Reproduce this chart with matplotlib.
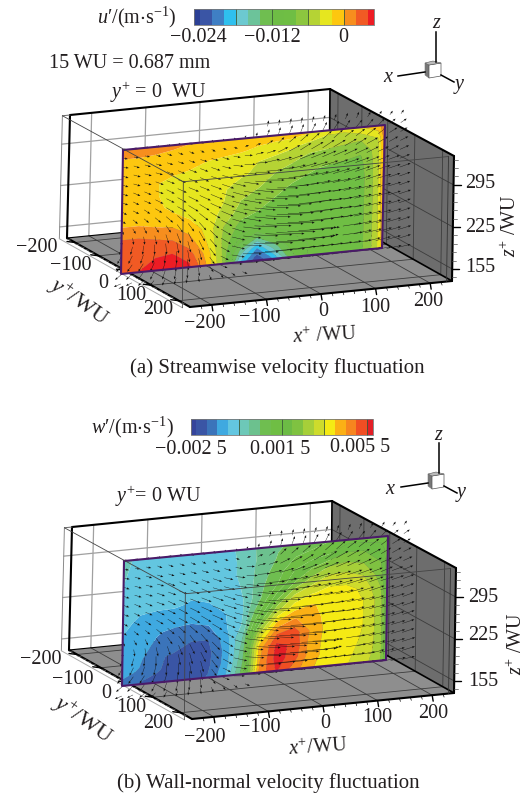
import numpy as np
import matplotlib
matplotlib.use('Agg')
import matplotlib.pyplot as plt
from matplotlib.colors import ListedColormap

plt.rcParams['font.family'] = ['Liberation Serif', 'DejaVu Serif']
plt.rcParams['mathtext.fontset'] = 'custom'
plt.rcParams['mathtext.rm'] = 'Liberation Serif'
plt.rcParams['mathtext.it'] = 'Liberation Serif:italic'
plt.rcParams['mathtext.fallback'] = 'stix'

nan = np.nan
x_ticks = [-200, -100, 0, 100, 200]
y_ticks = [-200, -100, 0, 100, 200]
z_ticks = [155, 225, 295]
x_labels = ['\u2212200', '\u2212100', '0', '100', '200']
y_labels = ['\u2212200', '\u2212100', '0', '100', '200']
z_labels = ['155', '225', '295']

# colour bars, values in m/s
u_bar_edges = [-0.025, -0.024, -0.022, -0.020, -0.018, -0.016, -0.014, -0.012, -0.010,
               -0.008, -0.006, -0.004, -0.002, 0.0, 0.002, 0.004, 0.005]
u_bar_marks = [-0.018, -0.012, -0.006, 0.0]
u_bar_labels = ['\u22120.024', '\u22120.012', '0']
u_colors = ['#2b3f95', '#3a55a5', '#3f7fc4', '#2fc0ee', '#6cc9d0', '#6cc39a', '#6fbe50', '#6ebd45',
            '#6fbe44', '#8cc63f', '#b5d334', '#e6e61f', '#fdc70f', '#f78e1e', '#f15a24', '#ed1c24']
w_bar_edges = [-0.00275, -0.0025, -0.0020, -0.0015, -0.0010, -0.0005, 0.0, 0.0005, 0.0010, 0.0015,
               0.0020, 0.0025, 0.0030, 0.0035, 0.0040, 0.0045, 0.0050, 0.0055, 0.00575]
w_bar_marks = [-0.0005, 0.0015, 0.0035, 0.0055]
w_bar_labels = ['\u22120.002 5', '0.001 5', '0.005 5']
w_colors = ['#35449b', '#3a55a5', '#3b74ba', '#3fa9e0', '#63c6e0', '#6dc8b8', '#6cc18e', '#6fbe50', '#6fbe44',
            '#6cbb45', '#7fc241', '#a6cf39', '#cedb2c', '#f5ea14', '#fbb015', '#f6851f', '#f04e23', '#e31e26']

# colour level on the y+=0 plane, columns left to right, rows top to bottom
u_levels = [
    [13.2, 13.2, 13, 12.8, 12.5, 12.2, 12.1, 12, 12, 12, 12, 11.6, 10.8, 10.8, 11.5, 12.2, 13],
    [12.3, 12.3, 12.2, 12, 12, 12, 11.8, 11.6, 11.3, 11, 10.7, 10.2, 10, 9.8, 9.6, 10.5, 13],
    [12, 12, 12, 12, 11.6, 11.1, 10.9, 10.7, 10.5, 10.2, 9.8, 9.2, 9, 8.8, 8.6, 10, 13],
    [12, 12, 11.6, 11, 10.9, 10.8, 10.7, 10.6, 10.3, 9.5, 9, 8.6, 8.4, 8.3, 8.2, 10, 13],
    [12, 12, 11.6, 11, 10.8, 10.8, 10.6, 10, 9.6, 9, 8.5, 8.3, 8.2, 8.1, 8, 10, 13],
    [12, 12, 11.8, 11.2, 11, 10.8, 10.5, 9.5, 9, 8.5, 8.2, 8.1, 8, 8, 8, 10, 12.8],
    [12.2, 12.2, 12, 11.9, 11.4, 11, 10.2, 9, 8.5, 8, 8, 7.9, 7.9, 8, 8, 10, 12.6],
    [13.3, 13.3, 13, 12.8, 12.2, 11.2, 9.5, 8.2, 7.8, 7.7, 7.7, 7.7, 7.7, 7.8, 8, 10, 12.4],
    [14, 14, 14, 13.8, 13, 11.5, 9.3, 7.4, 6, 7, 7.5, 7.6, 7.6, 7.7, 8, 10, 12.2],
    [14.2, 14.3, 14.5, 14.7, 14, 12.2, 9.3, 5.5, 2.5, 5, 7, 7.5, 7.6, 7.7, 8, 10, 12.2],
    [14.3, 14.5, 14.8, 15, 14.8, 12.6, 9.4, 3.5, 0.5, 2.5, 6, 7.5, 7.6, 7.7, 8, 10, 12.2],
]
w_levels = [
    [4.7, 4.3, 4, 4, 4, 4, 4.2, 4.8, 5.8, 6.4, 6.7, 7, 7.5, 8, 8, 8, 7.5],
    [4.6, 4.2, 4, 4, 4, 4, 4.2, 4.7, 5.8, 6.6, 7.5, 8, 8.5, 9.5, 9.5, 9, 8],
    [4.5, 4, 4, 4, 4, 4, 4.2, 4.7, 6, 7, 8.5, 9.5, 10.5, 10.8, 10.5, 9.5, 8],
    [4, 4, 4, 4, 3.7, 3.8, 4, 4.6, 6.2, 7.5, 9.5, 11, 12, 12, 11.5, 10, 8],
    [4, 3.7, 3.6, 3.6, 3.4, 3.5, 3.8, 4.5, 6.4, 9, 11.5, 12.4, 12.8, 12.8, 12.3, 10.5, 8],
    [3.8, 3.3, 3.2, 3.1, 3.0, 3.0, 3.5, 4.5, 7.5, 11, 13, 13.6, 13.2, 12.9, 12.5, 11, 8.5],
    [3.5, 3.1, 2.6, 2.3, 2.1, 2.4, 3.4, 4.6, 9.5, 13.4, 14.6, 14, 13.1, 12.9, 12.5, 11, 8.5],
    [3.3, 2.9, 2.3, 1.8, 1.5, 1.5, 3.0, 5.5, 12, 15.4, 16, 14.3, 13.1, 12.9, 12.5, 11, 8.5],
    [3.1, 2.7, 1.6, 1.4, 1.2, 1.2, 2.8, 6, 14, 16.8, 16.3, 14, 13.1, 12.9, 12.4, 11, 8.5],
    [2.8, 2.4, 1.6, 1.2, 1.1, 1.3, 2.9, 6.5, 14.4, 17, 16, 13.9, 13.1, 12.8, 12.2, 11, 8.5],
    [2.2, 1.4, 1.2, 1.1, 1.1, 1.6, 3.4, 7, 14.8, 16.6, 15, 13.6, 13, 12.6, 12, 10.6, 8.5],
]

# vector components as they read on the page, same field in both panels
vec_u = [
    [nan, nan, nan, nan, nan, nan, nan, nan, nan, nan, nan, nan, nan, 1, 1, 1.5, 1.5, 2, 2, 2, 2.5, 2.5, 3, 3, 3, 3],
    [4, 4, 4, 4, 4, 3, 3, 3, 2, 2, 2, 1, 1, 2, 2, 3, 3, 4, 4, 5, 5, 6, 6, 6, 6, 6],
    [5, 5, 5, 5, 5, 5, 5, 4, 4, 4, 4, 4, 5, 6, 6, 7, 8, 8, 9, 9, 9, 9, 9, 8, 8, 7],
    [6, 6, 6, 6, 6, 6, 6, 7, 7, 7, 7, 8, 8, 9, 10, 11, 11, 12, 12, 12, 12, 11, 11, 10, 9, 8],
    [6, 7, 7, 7, 7, 7, 8, 8, 9, 9, 10, 11, 12, 13, 14, 14, 15, 15, 14, 14, 13, 13, 12, 11, 10, 9],
    [6, 7, 7, 8, 8, 8, 9, 9, 10, 11, 12, 13, 15, 16, 17, 17, 17, 17, 16, 15, 15, 14, 13, 12, 11, 10],
    [6, 7, 7, 8, 8, 9, 10, 10, 11, 12, 13, 15, 17, 18, 19, 19, 19, 18, 18, 17, 16, 15, 14, 13, 12, 11],
    [6, 6, 7, 8, 8, 9, 10, 11, 12, 13, 15, 17, 19, 20, 21, 21, 20, 20, 19, 18, 17, 16, 15, 14, 12, 11],
    [5, 6, 6, 7, 8, 9, 10, 10, 11, 13, 15, 18, 20, 22, 22, 22, 22, 21, 20, 19, 18, 17, 15, 14, 13, 11],
    [4, 5, 5, 6, 7, 7, 8, 9, 10, 12, 15, 18, 21, 23, 24, 24, 23, 22, 21, 20, 18, 17, 16, 14, 13, 12],
    [2, 3, 3, 4, 5, 6, 6, 7, 9, 11, 14, 18, 22, 25, 26, 26, 24, 23, 22, 20, 19, 17, 16, 15, 13, 12],
    [0, 1, 1, 2, 3, 4, 5, 6, 8, 10, 13, 18, 23, 26, 27, 27, 25, 24, 23, 21, 19, 18, 16, 15, 14, 12],
    [-2, -2, -1, 0, 1, 2, 3, 5, 7, 10, 13, 18, 24, 27, 28, 28, 26, 24, 16, 8, 19, 18, 17, 15, 14, 12],
    [-4, -4, -3, -2, -1, 0, 2, 3, 6, 9, 13, 19, 25, 28, 29, 29, 27, 24, 15, 7, 20, 18, 17, 16, 14, 13],
    [-5, -5, -5, -4, -3, -1, 1, 2, 5, 8, 13, 19, 25, 28, 29, 29, 27, 25, 23, 21, 19, 18, 16, 15, 14, 13],
    [-6, -6, -5, -4, -3, -2, 0, 1, 4, 7, 11, 16, 22, 26, 28, 28, 27, 26, 24, 22, 20, 18, 17, 16, 15, 13],
    [-7, -6, -5, -4, -3, -2, -1, 1, 2, 3, 4, 5, nan, nan, nan, nan, nan, nan, nan, nan, nan, nan, nan, nan, nan, nan],
]
vec_v = [
    [nan, nan, nan, nan, nan, nan, nan, nan, nan, nan, nan, nan, nan, 6, 6, 6, 6, 6, 6, 6, 6, 6, 5, 5, 4, 4],
    [-1, -1, -1, -1, -1, -1, -2, -2, -2, -1, 0, 2, 4, 6, 7, 8, 8, 8, 8, 8, 8, 7, 7, 6, 5, 4],
    [-1, -1, -1, -2, -2, -2, -2, -2, -2, -1, -1, 1, 2, 4, 6, 6, 7, 7, 8, 8, 7, 7, 7, 6, 5, 4],
    [-1, -2, -2, -2, -2, -2, -2, -2, -2, -2, -1, 0, 2, 3, 5, 6, 7, 7, 8, 7, 7, 7, 6, 6, 5, 4],
    [-2, -2, -2, -2, -3, -3, -3, -3, -3, -2, -1, 0, 1, 3, 4, 5, 6, 6, 6, 6, 6, 6, 6, 5, 5, 4],
    [-2, -2, -2, -3, -3, -3, -4, -4, -3, -3, -2, -1, 0, 1, 3, 4, 5, 5, 5, 5, 5, 5, 5, 5, 4, 4],
    [-2, -3, -3, -3, -4, -4, -4, -4, -4, -4, -3, -2, -1, 0, 1, 3, 4, 4, 5, 5, 5, 5, 5, 4, 4, 4],
    [-2, -3, -3, -4, -4, -5, -5, -5, -5, -4, -4, -3, -2, -1, 0, 2, 3, 4, 4, 4, 5, 5, 5, 4, 4, 4],
    [-3, -3, -4, -4, -5, -5, -6, -6, -5, -5, -4, -3, -2, -1, 0, 1, 2, 3, 3, 4, 4, 4, 4, 4, 4, 4],
    [-3, -4, -4, -5, -6, -6, -7, -7, -6, -5, -4, -3, -2, -1, 0, 1, 2, 3, 3, 3, 4, 4, 4, 4, 4, 4],
    [-5, -5, -6, -6, -7, -8, -8, -8, -7, -6, -4, -3, -2, -1, 0, 1, 1, 2, 3, 3, 3, 4, 4, 4, 4, 4],
    [-7, -7, -8, -9, -9, -10, -10, -10, -8, -6, -4, -2, -1, -1, 0, 0, 1, 2, 3, 3, 4, 4, 4, 4, 4, 4],
    [-7, -8, -9, -10, -11, -11, -11, -10, -8, -6, -3, -2, -1, -1, -1, 0, 1, 1, 1, 0, 3, 4, 4, 4, 4, 4],
    [-7, -8, -9, -10, -11, -12, -12, -11, -8, -5, -3, -1, 0, 0, 1, 1, 2, 2, 2, 2, 3, 4, 4, 4, 4, 4],
    [-6, -7, -8, -9, -10, -11, -11, -10, -7, -4, -2, 0, 1, 2, 2, 3, 3, 3, 3, 3, 3, 3, 4, 4, 4, 4],
    [-5, -6, -7, -8, -9, -10, -10, -9, -6, -3, 0, 1, 2, 3, 3, 3, 3, 3, 3, 3, 3, 3, 3, 3, 3, 3],
    [-3, -3, -4, -5, -6, -6, -6, -6, -5, -4, -3, -2, nan, nan, nan, nan, nan, nan, nan, nan, nan, nan, nan, nan, nan, nan],
]

# axis limits and page position of the box corners in panel (a)
x_lim = (-240, 240)
y_lim = (-240, 240)
z_lim = (135, 343)
back_top = np.array([[70, 115], [330, 89]], float)
back_bot = np.array([[67, 238], [329, 212]], float)
front_top = np.array([[191, 181], [454, 156]], float)
front_bot = np.array([[190, 307], [452, 281]], float)

txt = '#231f20'
fs = 14.5

fig = plt.figure(figsize=(5.30, 7.98), dpi=100)
ax = fig.add_axes([0, 0, 1, 1])
ax.set_xlim(0, 530)
ax.set_ylim(798, 0)
ax.axis('off')


def box_pt(x, y, z, off):
    a = (x - x_lim[0]) / (x_lim[1] - x_lim[0])
    b = ((y - y_lim[0]) / (y_lim[1] - y_lim[0])) ** 1.1
    c = (z - z_lim[0]) / (z_lim[1] - z_lim[0])
    back = (back_bot[0] * (1 - a) + back_bot[1] * a) * (1 - c) + (back_top[0] * (1 - a) + back_top[1] * a) * c
    front = (front_bot[0] * (1 - a) + front_bot[1] * a) * (1 - c) + (front_top[0] * (1 - a) + front_top[1] * a) * c
    return back * (1 - b) + front * b + np.array(off)


def line(p, q, **kw):
    ax.plot([p[0], q[0]], [p[1], q[1]], solid_capstyle='round', **kw)


def plane_xy(s, t, corners):
    tl, tr, bl, br = [np.array(c, float) for c in corners]
    px = (tl[0] * (1 - s) + tr[0] * s) * (1 - t) + (bl[0] * (1 - s) + br[0] * s) * t
    py = (tl[1] * (1 - s) + tr[1] * s) * (1 - t) + (bl[1] * (1 - s) + br[1] * s) * t
    return px, py


def color_bar(edges, marks, colors, left, right, top, bot):
    edges = np.array(edges)
    xs = np.interp(edges, [edges[0], edges[-1]], [left, right])
    ax.pcolormesh(xs, [top, bot], [np.arange(len(colors))], cmap=ListedColormap(colors),
                  vmin=-0.5, vmax=len(colors) - 0.5, zorder=3)
    for m in marks:
        mx = np.interp(m, [edges[0], edges[-1]], [left, right])
        ax.plot([mx, mx], [top, bot], c='#3a5a3a', lw=0.6, zorder=4)
    ax.plot([left, right, right, left, left], [top, top, bot, bot, top], c='#777777', lw=0.6, zorder=4)


def triad(ox, oy):
    ax.plot([ox + 3, ox + 3], [oy - 36, oy - 6], c='k', lw=1.1)
    ax.plot([ox - 35, ox - 8], [oy + 8, oy + 4], c='k', lw=1.1)
    ax.plot([ox + 8, ox + 21], [oy + 7, oy + 14], c='k', lw=1.1)
    ax.fill([ox - 8, ox - 4, ox - 4, ox - 8], [oy - 5, oy - 3, oy + 10, oy + 7], c='#777777', lw=0.4)
    ax.fill([ox - 4, ox + 8, ox + 8, ox - 4], [oy - 3, oy - 5, oy + 8, oy + 10], fc='white', ec='#555555', lw=0.5)
    ax.fill([ox - 8, ox, ox + 8, ox - 4], [oy - 5, oy - 7, oy - 5, oy - 3], fc='#bbbbbb', ec='#555555', lw=0.4)


def panel(off, corners, levels, colors):
    E, F, G, H = box_pt(x_lim[0], y_lim[0], z_lim[0], off), box_pt(x_lim[1], y_lim[0], z_lim[0], off), \
        box_pt(x_lim[1], y_lim[1], z_lim[0], off), box_pt(x_lim[0], y_lim[1], z_lim[0], off)
    A, B, C = box_pt(x_lim[0], y_lim[0], z_lim[1], off), box_pt(x_lim[1], y_lim[0], z_lim[1], off), \
        box_pt(x_lim[1], y_lim[1], z_lim[1], off)
    ax.fill([E[0], F[0], G[0], H[0]], [E[1], F[1], G[1], H[1]], c='#8e8e8e', lw=0, zorder=1)
    ax.fill([B[0], C[0], G[0], F[0]], [B[1], C[1], G[1], F[1]], c='#6d6d6d', lw=0, zorder=1)

    # wall grids, the left wall is edge on and has none
    for xv in x_ticks:
        line(box_pt(xv, y_lim[0], z_lim[0], off), box_pt(xv, y_lim[0], z_lim[1], off), c='#a0a0a0', lw=0.9, zorder=1.5)
        line(box_pt(xv, y_lim[0], z_lim[0], off), box_pt(xv, y_lim[1], z_lim[0], off), c='#3c3c3c', lw=0.6, zorder=1.5)
    for yv in y_ticks:
        line(box_pt(x_lim[0], yv, z_lim[0], off), box_pt(x_lim[1], yv, z_lim[0], off), c='#3c3c3c', lw=0.6, zorder=1.5)
        line(box_pt(x_lim[1], yv, z_lim[0], off), box_pt(x_lim[1], yv, z_lim[1], off), c='#3c3c3c', lw=0.6, zorder=1.5)
    for zv in z_ticks:
        line(box_pt(-254, y_lim[0], zv, off), box_pt(x_lim[1], y_lim[0], zv, off), c='#a0a0a0', lw=0.9, zorder=1.5)
        line(box_pt(x_lim[1], y_lim[0], zv, off), box_pt(x_lim[1], y_lim[1], zv, off), c='#3c3c3c', lw=0.6, zorder=1.5)

    # black edges
    for p, q, w in [(A, B, 1.5), (B, C, 1.5), (A, E, 1.5), (C, G, 1.5), (B, F, 1.2), (E, H, 1.5),
                    (H, G, 1.5), (F, G, 1.2), (E, F, 0.8)]:
        line(p, q, c='k', lw=w, zorder=2)

    # ticks
    for xv in np.arange(-220, 221, 20):
        major = xv in x_ticks
        p = box_pt(xv, y_lim[1], z_lim[0], off)
        line(p, p + np.array([1, 6 if major else 3]), c='k', lw=1.0 if major else 0.5, zorder=2)
    for yv in np.arange(-220, 221, 20):
        major = yv in y_ticks
        p = box_pt(x_lim[0], yv, z_lim[0], off)
        line(p, p + np.array([-8 if major else -4, -1]), c='k' if major else '#666666', lw=1.0 if major else 0.5, zorder=2)
    for zv in np.arange(141, 340, 14):
        major = zv in z_ticks
        p = box_pt(x_lim[1], y_lim[1], zv, off)
        line(p, p + np.array([7 if major else 4, 0]), c='k' if major else '#555555', lw=1.0 if major else 0.5, zorder=2)

    # contour plane, last column is close to the edge
    lev = np.array(levels, float)
    s = np.r_[np.arange(lev.shape[1] - 1) * 0.065, 1.0]
    t = np.linspace(0, 1, lev.shape[0])
    S, T = np.meshgrid(s, t)
    PX, PY = plane_xy(S, T, corners)
    ax.contourf(PX, PY, lev, levels=np.arange(-0.5, len(colors)), colors=colors, zorder=3, antialiased=True)
    ox = [corners[0][0], corners[1][0], corners[3][0], corners[2][0], corners[0][0]]
    oy = [corners[0][1], corners[1][1], corners[3][1], corners[2][1], corners[0][1]]

    # vectors
    vu = np.array(vec_u, float)
    vv = np.array(vec_v, float)
    vs, vt = np.meshgrid(np.linspace(0, 1.06, vu.shape[1]), np.linspace(-0.08, 1.08, vu.shape[0]))
    QX, QY = plane_xy(vs, vt, corners)
    ax.quiver(QX, QY, vu, -vv, angles='xy', scale_units='xy', scale=1, units='xy', width=0.4,
              headwidth=5.5, headlength=7, headaxislength=6.5, color='#111111', zorder=4)
    ax.plot(ox, oy, c='#4a1a68', lw=1.5, zorder=5)

    # thin front frame, runs across the plane
    a2 = box_pt(-254, y_lim[0], z_lim[1], off)
    e2 = box_pt(-254, y_lim[0], z_lim[0], off)
    d2 = box_pt(-254, y_lim[1], z_lim[1], off)
    h2 = box_pt(-254, y_lim[1], z_lim[0], off)
    c2 = box_pt(230, y_lim[1], z_lim[1], off)
    g2 = box_pt(230, y_lim[1], z_lim[0], off)
    line(a2, e2, c='#8a8a8a', lw=0.7, zorder=2)
    line(e2, h2, c='#aaaaaa', lw=0.7, zorder=2)
    line(a2, A, c='#666666', lw=0.7, zorder=2)
    line(a2, d2, c='#444444', lw=0.6, zorder=6)
    line(d2, h2, c='#444444', lw=0.6, zorder=6)
    line(d2, c2, c='#444444', lw=0.6, zorder=6)
    line(c2, g2, c='#333333', lw=0.6, zorder=6)


def t(x, y, s, size=fs, ha='center', rot=0):
    ax.text(x, y, s, fontsize=size, ha=ha, va='center', color=txt, rotation=rot,
            rotation_mode='anchor' if rot else 'default', zorder=8)


panel((0, 0), [(123, 150), (385, 125), (121, 274), (382, 248)], u_levels, u_colors)
panel((2, 412), [(124, 561), (388, 536), (122, 686), (386, 660)], w_levels, w_colors)

color_bar(u_bar_edges, u_bar_marks, u_colors, 194, 374, 9, 24.5)
color_bar(w_bar_edges, w_bar_marks, w_colors, 190.6, 372.5, 419, 435)
triad(433, 68)
triad(436, 479)

# panel (a) text
t(176, 17, "$u$\u2032/(m$\\cdot$s$^{-1}$)", ha='right')
for lab, px, py in zip(u_bar_labels, [198, 272, 343], [37, 37, 37]):
    t(px, py, lab)
t(49, 63, '15 WU = 0.687 mm', ha='left')
t(110, 92, r'$y^{+}$ = 0  WU', ha='left')
t(437, 24, r'$z$')
t(389, 78, r'$x$')
t(459, 87, r'$y$')
for lab, px, py in zip(x_labels, [205, 260, 323, 375, 428], [324, 317, 311, 307, 301]):
    t(px, py, lab)
for lab, px, py in zip(y_labels, [37, 71, 103, 131, 158], [248, 266, 284, 295, 310]):
    t(px, py, lab)
for lab, py in zip(z_labels, [268, 227, 183]):
    t(480, py, lab)
t(78, 302, r'$y^{+}$/WU', size=16, rot=-35)
t(325, 336, r'$x^{+}$ /WU', rot=3)
t(511, 225, r'$z^{+}$ /WU', rot=90)
t(277, 368, '(a) Streamwise velocity fluctuation', size=15)

# panel (b) text
t(174, 427, "$w$\u2032/(m$\\cdot$s$^{-1}$)", ha='right')
for lab, px, py in zip(w_bar_labels, [191, 280, 360], [450, 449, 447]):
    t(px, py, lab)
t(115, 496, r'$y^{+}$= 0 WU', ha='left')
t(439, 435, r'$z$')
t(391, 489, r'$x$')
t(461, 494, r'$y$')
for lab, px, py in zip(x_labels, [205, 260, 325, 377, 433], [737, 728, 724, 717, 714]):
    t(px, py, lab)
for lab, px, py in zip(y_labels, [41, 73, 106, 131, 158], [660, 679, 694, 707, 723]):
    t(px, py, lab)
for lab, py in zip(z_labels, [682, 636, 597]):
    t(483, py, lab)
t(82, 720, r'$y^{+}$/WU', size=16, rot=-35)
t(318, 748, r'$x^{+}$/WU', rot=4)
t(517, 643, r'$z^{+}$ /WU', rot=90)
t(268, 783, '(b) Wall-normal velocity fluctuation', size=15)

fig.savefig('out.png', dpi=100)
